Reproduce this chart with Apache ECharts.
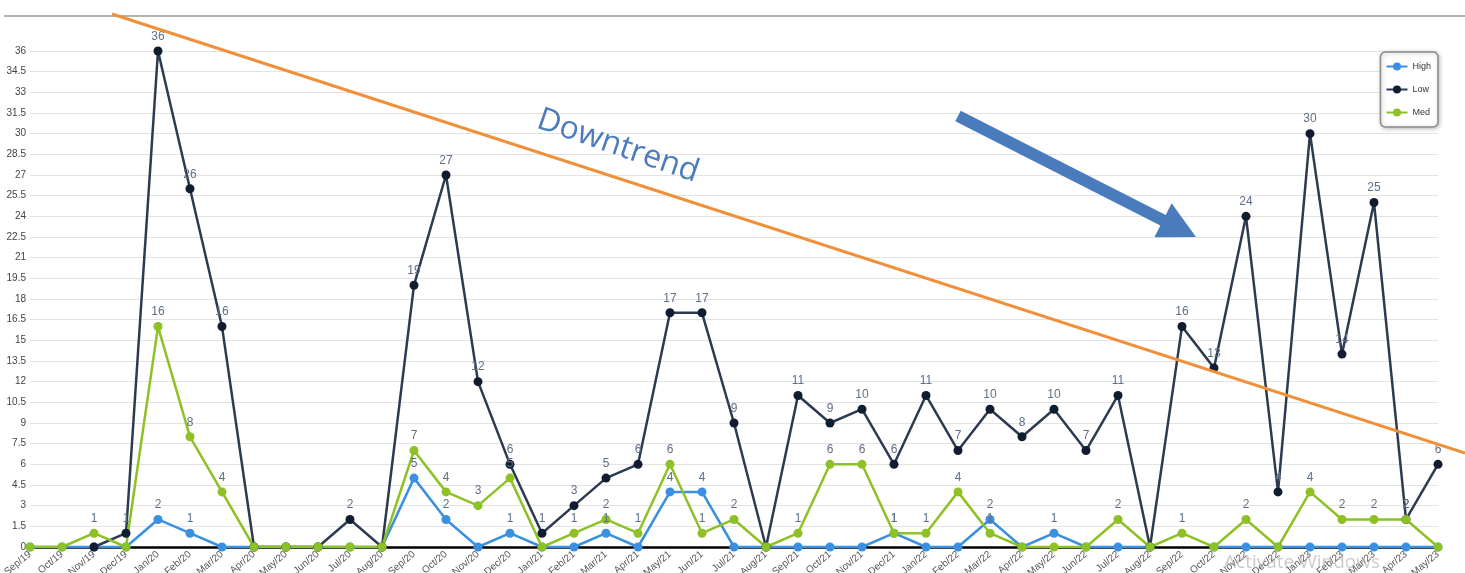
<!DOCTYPE html>
<html>
<head>
<meta charset="utf-8">
<title>Monthly counts by priority</title>
<script src="https://cdn.jsdelivr.net/npm/echarts@6/dist/echarts.min.js"></script>
<style>
  html, body { margin: 0; padding: 0; background: #fff; }
  #chart { width: 1465px; height: 573px; }
</style>
</head>
<body>
<div id="chart"></div>
<script>
// Month labels, Sep/19 through May/23
const months = [
  'Sep/19','Oct/19','Nov/19','Dec/19',
  'Jan/20','Feb/20','Mar/20','Apr/20','May/20','Jun/20','Jul/20','Aug/20','Sep/20','Oct/20','Nov/20','Dec/20',
  'Jan/21','Feb/21','Mar/21','Apr/21','May/21','Jun/21','Jul/21','Aug/21','Sep/21','Oct/21','Nov/21','Dec/21',
  'Jan/22','Feb/22','Mar/22','Apr/22','May/22','Jun/22','Jul/22','Aug/22','Sep/22','Oct/22','Nov/22','Dec/22',
  'Jan/23','Feb/23','Mar/23','Apr/23','May/23'
];

const highCounts = [
  0, 0, 0, 0,
  2, 1, 0, 0, 0, 0, 0, 0, 5, 2, 0, 1,
  0, 0, 1, 0, 4, 4, 0, 0, 0, 0, 0, 1,
  0, 0, 2, 0, 1, 0, 0, 0, null, 0, 0, 0,
  0, 0, 0, 0, 0
];

const lowCounts = [
  null, null, 0, 1,
  36, 26, 16, 0, 0, 0, 2, 0, 19, 27, 12, 6,
  1, 3, 5, 6, 17, 17, 9, 0, 11, 9, 10, 6,
  11, 7, 10, 8, 10, 7, 11, 0, 16, 13, 24, 4,
  30, 14, 25, 2, 6
];

const medCounts = [
  0, 0, 1, 0,
  16, 8, 4, 0, 0, 0, 0, 0, 7, 4, 3, 5,
  0, 1, 2, 1, 6, 1, 2, 0, 1, 6, 6, 1,
  1, 4, 1, 0, 0, 0, 2, 0, 1, 0, 2, 0,
  4, 2, 2, 2, 0
];

// Value axis ticks: 0 to 36 in steps of 1.5
const yMin = 0, yMax = 36, yStep = 1.5;

const labelStyle = {
  show: true,
  position: 'top',
  distance: 4,
  color: '#5d6f88',
  fontSize: 12,
  fontFamily: 'Liberation Sans, Arial, sans-serif',
  formatter: p => (p.value ? String(p.value) : '')
};

function makeSeries(name, data, lineColor, pointColor) {
  return {
    name: name,
    type: 'line',
    data: data,
    symbol: 'circle',
    symbolSize: 9,
    connectNulls: false,
    lineStyle: { color: lineColor, width: 2.5 },
    itemStyle: { color: pointColor },
    label: labelStyle,
    emphasis: { disabled: true }
  };
}

// Arrow pointing down-right toward the recent peaks
function arrowPoints(sx, sy, tx, ty, shaftHalf, headLen, headHalf) {
  const dx = tx - sx, dy = ty - sy;
  const len = Math.hypot(dx, dy);
  const ux = dx / len, uy = dy / len;
  const nx = -uy, ny = ux;
  const hx = tx - ux * headLen, hy = ty - uy * headLen;
  return [
    [sx + nx * shaftHalf, sy + ny * shaftHalf],
    [hx + nx * shaftHalf, hy + ny * shaftHalf],
    [hx + nx * headHalf, hy + ny * headHalf],
    [tx, ty],
    [hx - nx * headHalf, hy - ny * headHalf],
    [hx - nx * shaftHalf, hy - ny * shaftHalf],
    [sx - nx * shaftHalf, sy - ny * shaftHalf]
  ];
}

const chart = echarts.init(document.getElementById('chart'), null, { renderer: 'canvas' });

const option = {
  animation: false,
  backgroundColor: '#ffffff',
  grid: {
    left: 30, right: 27, top: 51, bottom: 26,
    containLabel: false,
    outerBoundsMode: 'none'
  },
  legend: {
    orient: 'vertical',
    right: 27,
    top: 52,
    data: ['High', 'Low', 'Med'],
    backgroundColor: '#ffffff',
    borderColor: '#8a8a8a',
    borderWidth: 1.5,
    borderRadius: 5,
    shadowColor: 'rgba(0,0,0,0.25)',
    shadowBlur: 4,
    shadowOffsetX: 1,
    shadowOffsetY: 1,
    padding: [10, 7, 10, 5],
    itemWidth: 21,
    itemHeight: 10,
    itemGap: 14,
    textStyle: { fontSize: 9, color: '#333', fontFamily: 'Liberation Sans, Arial, sans-serif' }
  },
  xAxis: {
    type: 'category',
    data: months,
    boundaryGap: false,
    axisLine: { lineStyle: { color: '#000', width: 2.5 } },
    axisTick: { show: false },
    axisLabel: {
      rotate: 40,
      interval: 0,
      fontSize: 10,
      color: '#555',
      margin: 6,
      fontFamily: 'Liberation Sans, Arial, sans-serif'
    },
    splitLine: { show: false }
  },
  yAxis: {
    type: 'value',
    min: yMin,
    max: yMax,
    interval: yStep,
    axisLine: { show: false },
    axisTick: { show: false },
    axisLabel: {
      fontSize: 10,
      color: '#444',
      margin: 4,
      fontFamily: 'Liberation Sans, Arial, sans-serif'
    },
    splitLine: { lineStyle: { color: '#e3e3e3', width: 1 } }
  },
  series: [
    makeSeries('High', highCounts, '#3b8fe0', '#3b8fe0'),
    makeSeries('Low', lowCounts, '#2c3b50', '#101d30'),
    makeSeries('Med', medCounts, '#8dc125', '#8dc125')
  ],
  graphic: [
    // frame line along the top
    {
      type: 'line',
      shape: { x1: 4, y1: 16, x2: 1465, y2: 16 },
      style: { stroke: '#9a9a9a', lineWidth: 1.5 },
      z: 50
    },
    // trend line
    {
      type: 'line',
      shape: { x1: 112, y1: 14, x2: 1465, y2: 453 },
      style: { stroke: '#f0903a', lineWidth: 3 },
      z: 60
    },
    {
      type: 'text',
      x: 618,
      y: 146,
      rotation: -19 * Math.PI / 180,
      style: {
        text: 'Downtrend',
        fill: '#4a7cbf',
        font: '32px "Open Sans", "Liberation Sans", sans-serif',
        align: 'center',
        verticalAlign: 'middle',
        shadowColor: 'rgba(0,0,0,0.25)',
        shadowBlur: 3,
        shadowOffsetX: 1,
        shadowOffsetY: 1
      },
      z: 60
    },
    {
      type: 'polygon',
      shape: { points: arrowPoints(958, 116, 1196, 237, 6, 37, 19) },
      style: { fill: '#4a7bbd' },
      z: 60
    },
    {
      type: 'text',
      x: 1302,
      y: 563,
      style: {
        text: 'Activate Windows',
        fill: 'rgba(160,160,160,0.55)',
        font: '19px "Open Sans", "Liberation Sans", sans-serif',
        align: 'center',
        verticalAlign: 'middle'
      },
      z: 70
    }
  ]
};

chart.setOption(option);
</script>
</body>
</html>
